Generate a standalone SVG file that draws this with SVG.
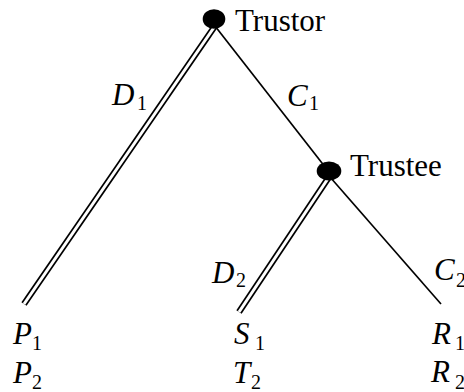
<svg xmlns="http://www.w3.org/2000/svg" width="464" height="392" viewBox="0 0 464 392">
<defs>
<style>
.single{stroke:#000;stroke-width:1.7;fill:none}
.dbl-o{stroke:#000;stroke-width:6.4;fill:none}
.dbl-i{stroke:#fff;stroke-width:3;fill:none}
.node{fill:#000}
</style>
</defs>
<rect width="464" height="392" fill="#fff"/>
<g id="connectors">
  <g id="edge-D1">
    <line class="dbl-o" x1="215" y1="26" x2="24" y2="304"/>
    <line class="dbl-i" x1="215" y1="26" x2="24" y2="304"/>
  </g>
  <line id="edge-C1" class="single" x1="215" y1="26" x2="329" y2="172"/>
  <g id="edge-D2">
    <line class="dbl-o" x1="329" y1="177" x2="239" y2="312"/>
    <line class="dbl-i" x1="329" y1="177" x2="239" y2="312"/>
  </g>
  <line id="edge-C2" class="single" x1="330" y1="177" x2="441" y2="304"/>
</g>
<g id="trustor">
  <ellipse class="node" cx="214" cy="19" rx="11.3" ry="9.8"/>
  <text x="235" y="31" font-family="Liberation Serif" font-size="31" fill="#000">Trustor</text>
</g>
<g id="trustee">
  <ellipse class="node" cx="329" cy="171" rx="12.3" ry="9.5"/>
  <text x="350" y="176" font-family="Liberation Serif" font-size="31" fill="#000">Trustee</text>
</g>
<g id="labels" font-family="Liberation Serif" font-size="31" fill="#000">
  <text x="112" y="105" font-style="italic">D</text><text x="137" y="110" font-size="20">1</text>
  <text x="287" y="106" font-style="italic">C</text><text x="309" y="110" font-size="20">1</text>
  <text x="212" y="283" font-style="italic">D</text><text x="236" y="287" font-size="20">2</text>
  <text x="434" y="280" font-style="italic">C</text><text x="456" y="287" font-size="20">2</text>
</g>
<g id="leaf-P" font-family="Liberation Serif" font-size="31" fill="#000">
  <text x="13" y="344" font-style="italic">P</text><text x="32" y="350" font-size="20">1</text>
  <text x="13" y="383" font-style="italic">P</text><text x="32" y="389" font-size="20">2</text>
</g>
<g id="leaf-ST" font-family="Liberation Serif" font-size="31" fill="#000">
  <text x="234" y="344" font-style="italic">S</text><text x="255" y="350" font-size="20">1</text>
  <text x="233" y="383" font-style="italic">T</text><text x="251" y="389" font-size="20">2</text>
</g>
<g id="leaf-R" font-family="Liberation Serif" font-size="31" fill="#000">
  <text x="432" y="344" font-style="italic">R</text><text x="455" y="350" font-size="20">1</text>
  <text x="431" y="382" font-style="italic">R</text><text x="455" y="389" font-size="20">2</text>
</g>
</svg>
